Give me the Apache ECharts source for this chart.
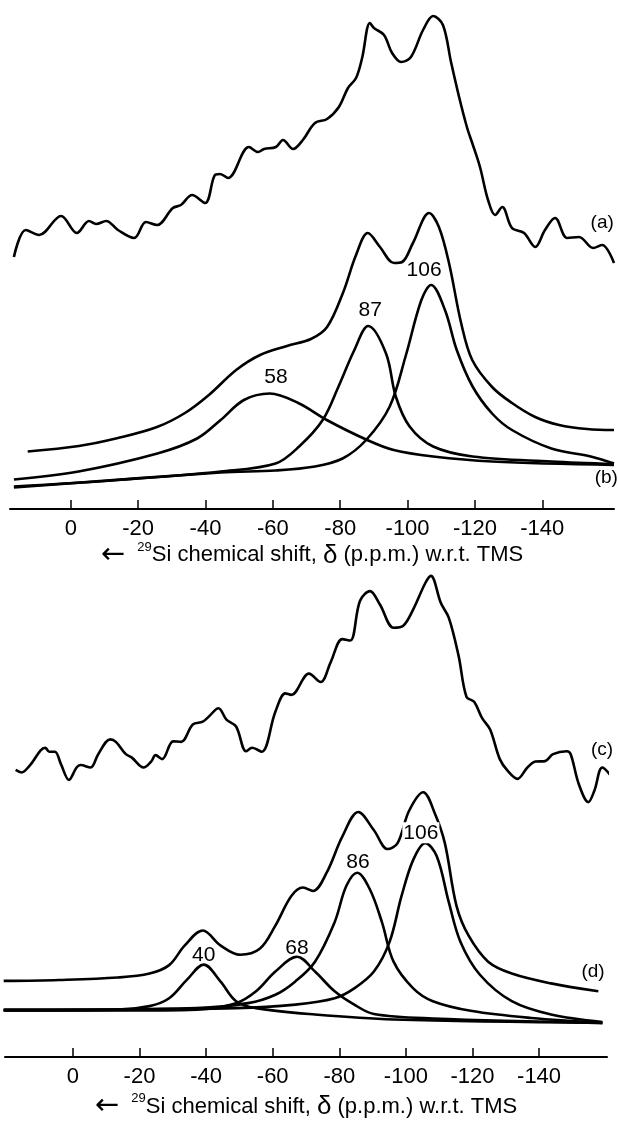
<!DOCTYPE html>
<html>
<head>
<meta charset="utf-8">
<script src="https://cdn.jsdelivr.net/npm/echarts@6/dist/echarts.min.js"></script>
<style>
html,body{margin:0;padding:0;background:#fff;}
#chart{width:618px;height:1122px;}
</style>
</head>
<body>
<div id="chart"></div>
<script>
// ---- tick labels (p.p.m.) ----
const ppmTicks = [0, -20, -40, -60, -80, -100, -120, -140];
const axisTitle = '{arr|\u2190}  {sup|29}Si chemical shift, {dl|\u03b4} (p.p.m.) w.r.t. TMS';

// ---- top panel: spectrum (a) [ppm, intensity] ----
const specA = [
  [16.9,50.4],[13.4,55.8],[9.4,54.8],[2.9,58.6],[-1.8,55.2],[-5.4,57.6],[-7.5,57.0],[-10.5,57.6],
  [-14.0,55.8],[-18.8,54.2],[-22.3,57.4],[-25.6,56.8],[-30.3,60.2],[-32.7,60.8],[-36.0,62.8],
  [-39.9,61.2],[-42.8,66.8],[-44.3,67.0],[-46.7,66.2],[-52.9,72.4],[-55.6,71.4],[-57.4,72.0],
  [-60.9,72.4],[-63.0,73.8],[-66.0,72.0],[-68.9,73.8],[-72.5,77.2],[-76.1,78.0],[-79.6,80.4],
  [-82.3,84.2],[-84.7,86.2],[-86.5,90.2],[-88.8,97.2],[-90.0,96.2],[-93.0,94.8],[-95.4,91.2],
  [-98.1,89.4],[-101.0,90.4],[-104.6,95.8],[-107.6,98.6],[-110.5,96.8],[-112.9,89.4],[-115.3,82.4],
  [-117.7,76.2],[-119.2,73.2],[-121.5,68.4],[-123.9,61.8],[-126.0,58.8],[-128.1,60.4],[-131.0,56.2],
  [-134.6,55.2],[-137.9,52.4],[-140.8,55.8],[-143.8,58.2],[-147.4,54.2],[-150.9,54.4],[-155.1,52.2],
  [-157.8,52.8],[-161.3,49.2]
];
// ---- top panel: fit (b) ----
const fitBSum = [
  [12.8,11.5],[-2.4,12.6],[-14.0,14.2],[-25.6,16.4],[-33.9,19.2],[-41.0,22.8],[-49.1,27.8],
  [-56.2,30.8],[-64.2,32.6],[-71.3,34.0],[-76.1,36.4],[-80.8,43.2],[-84.7,50.8],[-88.2,55.2],
  [-91.8,52.4],[-96.0,49.2],[-98.4,49.4],[-101.6,53.2],[-106.4,59.2],[-109.3,56.4],[-112.3,49.2],
  [-115.9,37.2],[-119.2,29.8],[-125.1,24.4],[-131.0,21.2],[-137.9,18.4],[-145.0,16.8],[-153.3,16.0],
  [-161.3,15.8]
];
const fitB58 = [
  [16.9,5.9],[-2.3,7.5],[-25.7,11.1],[-37.5,14.1],[-44.5,17.8],[-51.4,21.8],[-59.1,23.1],
  [-67.8,21.1],[-76.0,17.8],[-87.7,13.9],[-95.9,11.8],[-107.6,10.5],[-125.1,9.5],[-161.3,8.8]
];
const fitB87 = [
  [16.9,4.5],[-14.0,5.8],[-44.5,7.5],[-60.8,9.1],[-67.8,12.5],[-74.8,17.8],[-79.5,24.5],
  [-84.2,31.8],[-88.3,36.6],[-93.6,31.1],[-96.5,22.5],[-100.6,16.5],[-107.6,12.5],[-119.3,10.5],
  [-142.7,9.5],[-161.3,9.0]
];
const fitB106 = [
  [16.9,4.3],[-44.5,7.3],[-60.8,7.7],[-72.5,8.5],[-80.7,10.1],[-87.7,13.8],[-94.7,20.5],
  [-99.4,30.5],[-104.1,41.8],[-107.0,44.8],[-111.1,39.8],[-114.6,31.8],[-119.3,24.5],[-125.1,19.1],
  [-131.0,15.8],[-142.7,12.1],[-154.4,10.5],[-161.3,9.1]
];
const labelsTop = [
  [-60.9,26.4,'58'],[-88.9,39.8,'87'],[-104.9,47.8,'106']
];
const tagsTop = [[-157.8,57.2,'(a)'],[-159.0,6.2,'(b)']];

// ---- bottom panel: spectrum (c) ----
const specC = [
  [17.2,58.1],[15.4,57.6],[13.1,58.9],[8.3,62.6],[7.1,61.8],[5.4,61.8],[3.6,59.3],[1.2,56.1],
  [-1.1,58.6],[-2.3,59.1],[-5.3,58.6],[-7.6,61.3],[-11.2,64.3],[-12.9,63.8],[-15.9,61.3],[-17.7,60.6],
  [-21.2,58.6],[-23.6,59.9],[-24.8,61.1],[-26.8,60.3],[-30.1,63.9],[-32.5,63.8],[-36.0,67.3],
  [-39.0,67.9],[-40.8,68.9],[-43.7,70.6],[-46.1,68.3],[-49.0,66.9],[-52.0,61.9],[-53.8,62.6],
  [-56.7,61.8],[-60.8,69.9],[-63.8,73.6],[-65.6,73.3],[-70.9,77.6],[-74.4,75.9],[-77.4,79.9],
  [-80.9,84.6],[-83.3,84.3],[-86.2,92.3],[-89.2,94.3],[-92.2,91.6],[-96.3,86.9],[-99.2,87.3],
  [-102.2,90.6],[-105.8,95.9],[-107.5,97.4],[-110.5,91.9],[-112.9,88.9],[-115.8,81.3],[-118.2,72.9],
  [-120.5,71.9],[-122.9,68.6],[-125.3,66.3],[-128.2,60.3],[-130.6,57.9],[-133.5,56.3],[-136.5,58.6],
  [-138.9,59.8],[-141.8,59.9],[-144.2,61.3],[-148.3,61.9],[-149.5,61.3],[-151.9,55.3],[-154.8,51.6],
  [-156.6,53.9],[-159.0,58.6],[-161.9,56.6]
];
// ---- bottom panel: fit (d) ----
const fitDSum = [
  [20.8,15.4],[4.2,15.6],[-13.5,16.1],[-23.0,16.9],[-28.9,18.6],[-33.6,22.6],[-39.0,25.6],
  [-44.3,22.6],[-50.2,20.7],[-56.1,21.9],[-60.8,26.6],[-65.6,32.6],[-69.1,34.3],[-72.1,33.6],
  [-76.2,37.3],[-80.9,44.6],[-85.7,49.6],[-90.4,45.9],[-94.5,42.1],[-97.5,43.3],[-101.0,49.9],
  [-105.2,53.6],[-108.7,49.3],[-111.7,43.3],[-115.2,30.6],[-118.8,24.6],[-124.7,19.3],[-131.8,16.9],
  [-143.6,14.9],[-157.8,13.3]
];
const fitD40 = [
  [20.8,9.6],[-13.5,9.6],[-23.0,10.3],[-28.9,11.9],[-34.2,15.6],[-39.3,18.7],[-44.3,15.3],
  [-49.0,11.3],[-55.0,9.9],[-72.7,8.6],[-96.3,7.6],[-159.0,6.9]
];
const fitD68 = [
  [20.8,9.4],[-13.5,9.4],[-37.2,9.6],[-49.0,10.9],[-55.0,13.3],[-60.8,17.3],[-67.3,20.3],
  [-72.7,17.3],[-78.6,13.3],[-84.5,10.6],[-90.4,8.7],[-108.1,7.8],[-159.0,6.9]
];
const fitD86 = [
  [20.8,9.5],[-37.2,9.9],[-52.6,10.9],[-60.8,12.6],[-66.8,15.3],[-72.7,19.3],[-78.6,27.3],
  [-82.1,34.6],[-85.4,37.3],[-89.2,33.9],[-92.8,27.3],[-96.3,19.3],[-102.2,13.9],[-108.1,11.3],
  [-119.9,9.3],[-137.7,7.9],[-159.0,6.9]
];
const fitD106 = [
  [20.8,9.4],[-49.0,9.9],[-66.8,10.6],[-78.6,11.9],[-84.5,13.9],[-90.4,17.3],[-95.1,23.3],
  [-98.7,32.6],[-102.2,39.9],[-105.8,43.3],[-109.3,40.6],[-112.9,31.3],[-116.4,23.3],[-122.3,16.6],
  [-131.8,11.3],[-143.6,8.6],[-159.0,7.1]
];
const labelsBottom = [
  [-39.3,20.6,'40'],[-67.3,22.0,'68'],[-85.6,39.4,'86'],[-104.5,45.4,'106']
];
const tagsBottom = [[-158.9,62.2,'(c)'],[-156.2,17.2,'(d)']];

// ---------------------------------------------------------------
const INK = '#000';
const FONT = '"Liberation Sans", Arial, Helvetica, sans-serif';

function xAxisFor(grid, min, max, gap) {
  return {
    gridIndex: grid, type: 'value', min: min, max: max, inverse: true,
    axisLine: { show: true, lineStyle: { color: INK, width: 2 } },
    axisTick: { show: true, inside: true, length: 9, lineStyle: { color: INK, width: 1.5 }, customValues: ppmTicks },
    axisLabel: { show: true, customValues: ppmTicks, margin: 9, color: INK, fontSize: 22, fontFamily: FONT,
                 formatter: v => String(v) },
    splitLine: { show: false },
    name: axisTitle, nameLocation: 'middle', nameGap: gap,
    nameTextStyle: {
      color: INK, fontSize: 22, fontFamily: FONT,
      rich: {
        arr: { fontSize: 29, color: INK, fontFamily: '"DejaVu Sans", sans-serif' },
        sup: { fontSize: 13, color: INK, fontFamily: FONT, verticalAlign: 'top', lineHeight: 14 },
        dl: { fontSize: 26, color: INK, fontFamily: FONT }
      }
    }
  };
}
function yAxisFor(grid) {
  return { gridIndex: grid, type: 'value', min: 0, max: 100, show: false, splitLine: { show: false } };
}
function curve(data, grid, width) {
  return {
    type: 'line', xAxisIndex: grid, yAxisIndex: grid, data: data,
    showSymbol: false, symbol: 'none', smooth: 0.35, clip: false,
    lineStyle: { color: INK, width: width || 2.6 }, silent: true, animation: false, z: 2
  };
}
function texts(data, grid, size, bg) {
  return {
    type: 'scatter', xAxisIndex: grid, yAxisIndex: grid, data: data, symbolSize: 0, clip: false,
    silent: true, animation: false, z: 5,
    itemStyle: { color: INK, opacity: 1 },
    label: { show: true, position: 'inside', formatter: p => p.value[2], color: INK, fontSize: size,
             fontFamily: FONT, textBorderWidth: 0, opacity: 1,
             backgroundColor: bg || 'transparent', padding: bg ? [0, 1] : 0 }
  };
}

const chart = echarts.init(document.getElementById('chart'), null, { renderer: 'canvas' });
chart.setOption({
  backgroundColor: '#fff',
  animation: false,
  grid: [
    { left: 10, width: 604, top: 9, height: 500 },
    { left: 5, width: 602, top: 563, height: 500 }
  ],
  xAxis: [ xAxisFor(0, -161.3, 18.06, 31), xAxisFor(1, -160.4, 20.4, 35) ],
  yAxis: [ yAxisFor(0), yAxisFor(1) ],
  series: [
    curve(specA, 0), curve(fitBSum, 0), curve(fitB58, 0), curve(fitB87, 0), curve(fitB106, 0),
    texts(labelsTop, 0, 21), texts(tagsTop, 0, 19),
    curve(specC, 1), curve(fitDSum, 1), curve(fitD40, 1), curve(fitD68, 1), curve(fitD86, 1), curve(fitD106, 1),
    texts(labelsBottom.slice(0, 3), 1, 21), texts(labelsBottom.slice(3), 1, 21, '#fff'), texts(tagsBottom, 1, 19)
  ]
});
</script>
</body>
</html>
